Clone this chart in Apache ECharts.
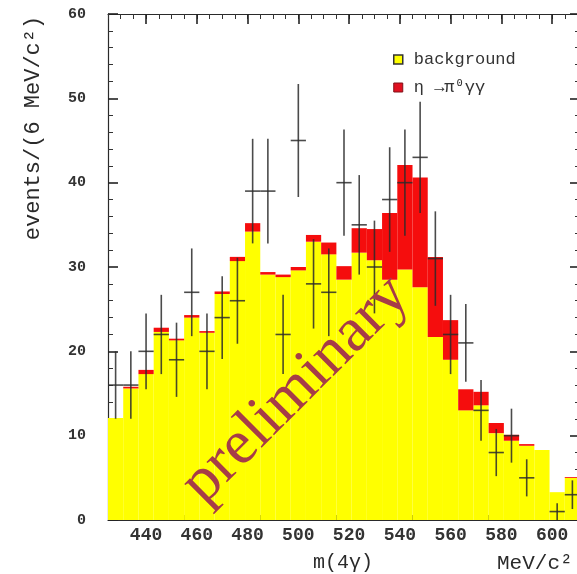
<!DOCTYPE html>
<html>
<head>
<meta charset="utf-8">
<script src="https://cdn.jsdelivr.net/npm/echarts@6/dist/echarts.min.js"></script>
<style>
  html, body { margin: 0; padding: 0; background: #ffffff; }
  #chart { width: 577px; height: 574px; }
</style>
</head>
<body>
<div id="chart"></div>
<script>
// m(4γ) histogram, 6 MeV bins (lower bin edges, MeV/c²)
const binLow = [425, 431, 437, 443, 449, 455, 461, 467, 473, 479, 485, 491, 497, 503, 509, 515,
                521, 527, 533, 539, 545, 551, 557, 563, 569, 575, 581, 587, 593, 599, 605];
const binWidth = 6;

// Expected background per bin
const background = [12.1, 15.6, 17.3, 22.3, 21.3, 24.0, 22.2, 26.8, 30.7, 34.2, 29.1, 28.8, 29.6, 33.0, 31.5, 28.5,
                    31.7, 30.8, 28.5, 29.7, 27.6, 21.7, 19.0, 13.0, 13.6, 10.3, 9.4, 8.8, 8.3, 3.3, 5.0];
// η → π⁰γγ contribution stacked on the background
const signal = [0.0, 0.2, 0.5, 0.5, 0.2, 0.3, 0.2, 0.3, 0.5, 1.0, 0.3, 0.3, 0.4, 0.8, 1.4, 1.6,
                2.9, 3.7, 7.9, 12.4, 13.0, 9.5, 4.7, 2.5, 1.6, 1.2, 0.7, 0.2, 0.0, 0.0, 0.1];
// Observed events and their errors (null = empty bin)
const events = [16, 16, 20, 22, 19, 27, 20, 24, 26, 39, 39, 22, 45, 28, 27, 40,
                35, 30, 38, 40, 43, 31, 22, 21, 13, 8, 10, 5, null, 1, 3];
const errors = [4.0, 4.0, 4.5, 4.7, 4.4, 5.2, 4.5, 4.9, 5.1, 6.2, 6.2, 4.7, 6.7, 5.3, 5.2, 6.3,
                5.9, 5.5, 6.2, 6.3, 6.6, 5.6, 4.7, 4.6, 3.6, 2.8, 3.2, 2.2, null, 1.0, 1.7];

// Axis tick labels
const xTickValues = [440, 460, 480, 500, 520, 540, 560, 580, 600];
const xMin = 425, xMax = 611;
const yMin = 0, yMax = 60;

const bgName = 'background';
const sigName = 'η →π⁰γγ';
const monoFont = '"Liberation Mono", "DejaVu Sans Mono", monospace';

const bgData = binLow.map((x, i) => [x, 0, background[i]]);
const sigData = binLow.map((x, i) => [x, background[i], background[i] + signal[i]]);
const pointData = [];
binLow.forEach((x, i) => {
  if (events[i] !== null) pointData.push([x + binWidth / 2, events[i], errors[i]]);
});

function stepRenderer(color) {
  return function (params, api) {
    const x0 = api.value(0), lo = api.value(1), hi = api.value(2);
    if (hi <= lo) return null;
    const a = api.coord([x0, lo]);
    const b = api.coord([x0 + binWidth, hi]);
    return {
      type: 'rect',
      shape: { x: a[0], y: b[1], width: b[0] - a[0], height: a[1] - b[1] },
      style: { fill: color, stroke: null }
    };
  };
}

function crossRenderer(params, api) {
  const x = api.value(0), v = api.value(1), e = api.value(2);
  const top = api.coord([x, v + e]);
  const bot = api.coord([x, Math.max(v - e, 0)]);
  const l = api.coord([x - binWidth / 2, v]);
  const r = api.coord([x + binWidth / 2, v]);
  const st = { stroke: '#2b2b2b', lineWidth: 1.6, opacity: 0.85 };
  return {
    type: 'group',
    children: [
      { type: 'line', shape: { x1: top[0], y1: top[1], x2: bot[0], y2: bot[1] }, style: st },
      { type: 'line', shape: { x1: l[0], y1: l[1], x2: r[0], y2: r[1] }, style: st }
    ]
  };
}

const frame = { show: true, lineStyle: { color: '#2a2a2a', width: 1.2 } };
const minorX = (pos) => ({
  type: 'value', position: pos, min: xMin, max: xMax, interval: 5,
  axisLine: frame,
  axisTick: { show: true, inside: true, length: 5, lineStyle: { color: '#333', width: 1 } },
  axisLabel: { show: false }, splitLine: { show: false }
});
const majorX = (pos, labels) => ({
  type: 'value', position: pos, min: xMin, max: xMax,
  axisLine: { show: false },
  axisTick: { show: true, inside: true, length: 10, customValues: xTickValues,
              lineStyle: { color: '#222', width: 1.6 } },
  axisLabel: labels ? {
    show: true, customValues: xTickValues, margin: 6,
    fontFamily: monoFont, fontSize: 18, fontWeight: 'bold', color: '#333'
  } : { show: false },
  splitLine: { show: false }
});
const yAx = (pos, labels) => ({
  type: 'value', position: pos, min: yMin, max: yMax, interval: 10,
  axisLine: frame,
  axisTick: { show: true, inside: true, length: 10, lineStyle: { color: '#222', width: 1.6 } },
  minorTick: { show: true, splitNumber: 5, length: 5, lineStyle: { color: '#333', width: 1 } },
  axisLabel: labels ? {
    show: true, margin: 22, fontFamily: monoFont, fontSize: 15, fontWeight: 'bold', color: '#333'
  } : { show: false },
  splitLine: { show: false }, minorSplitLine: { show: false }
});

const chart = echarts.init(document.getElementById('chart'), null, { renderer: 'canvas' });
chart.setOption({
  backgroundColor: '#ffffff',
  animation: false,
  grid: { left: 108, top: 14, width: 472, height: 506, outerBoundsMode: 'none' },
  xAxis: [minorX('bottom'), majorX('bottom', true), minorX('top'), majorX('top', false)],
  yAxis: [yAx('left', true), yAx('right', false)],
  legend: {
    orient: 'vertical', left: 388, top: 46, itemWidth: 9, itemHeight: 9, itemGap: 11,
    icon: 'rect', selectedMode: false,
    textStyle: { fontFamily: monoFont, fontSize: 17, color: '#333', lineHeight: 17, padding: [0, 0, 0, 6] },
    data: [
      { name: bgName, itemStyle: { color: '#ffff00', borderColor: '#333', borderWidth: 1.5 } },
      { name: sigName, itemStyle: { color: '#e01020', borderColor: '#801018', borderWidth: 1 } }
    ]
  },
  series: [
    { name: bgName, type: 'custom', xAxisIndex: 0, yAxisIndex: 0, clip: true,
      itemStyle: { color: '#ffff00' }, renderItem: stepRenderer('#ffff00'), data: bgData, z: 2 },
    { name: sigName, type: 'custom', xAxisIndex: 0, yAxisIndex: 0, clip: true,
      itemStyle: { color: '#ff0000' }, renderItem: stepRenderer('#f50d0d'), data: sigData, z: 2 },
    { name: 'data', type: 'custom', xAxisIndex: 0, yAxisIndex: 0, clip: true,
      renderItem: crossRenderer, data: pointData, z: 3 }
  ],
  graphic: [
    { type: 'text', x: 33, y: 128, rotation: Math.PI / 2, z: 10,
      style: { text: 'events/(6 MeV/c²)', font: '22px ' + monoFont, fill: '#2a2a2a',
               align: 'center', verticalAlign: 'middle', textAlign: 'center', textVerticalAlign: 'middle' } },
    { type: 'text', x: 343, y: 563, z: 10,
      style: { text: 'm(4γ)', font: '20px ' + monoFont, fill: '#2a2a2a',
               align: 'center', verticalAlign: 'middle', textAlign: 'center', textVerticalAlign: 'middle' } },
    { type: 'text', x: 497, y: 563, z: 10,
      style: { text: 'MeV/c²', font: '21px ' + monoFont, fill: '#2a2a2a',
               align: 'left', verticalAlign: 'middle', textAlign: 'left', textVerticalAlign: 'middle' } },
    { type: 'text', x: 296, y: 390, rotation: 45 * Math.PI / 180, z: 20,
      style: { text: 'preliminary', font: '63px "Liberation Serif", "DejaVu Serif", serif', fill: '#a63c48',
               align: 'center', verticalAlign: 'middle', textAlign: 'center', textVerticalAlign: 'middle' } }
  ]
});
</script>
</body>
</html>
